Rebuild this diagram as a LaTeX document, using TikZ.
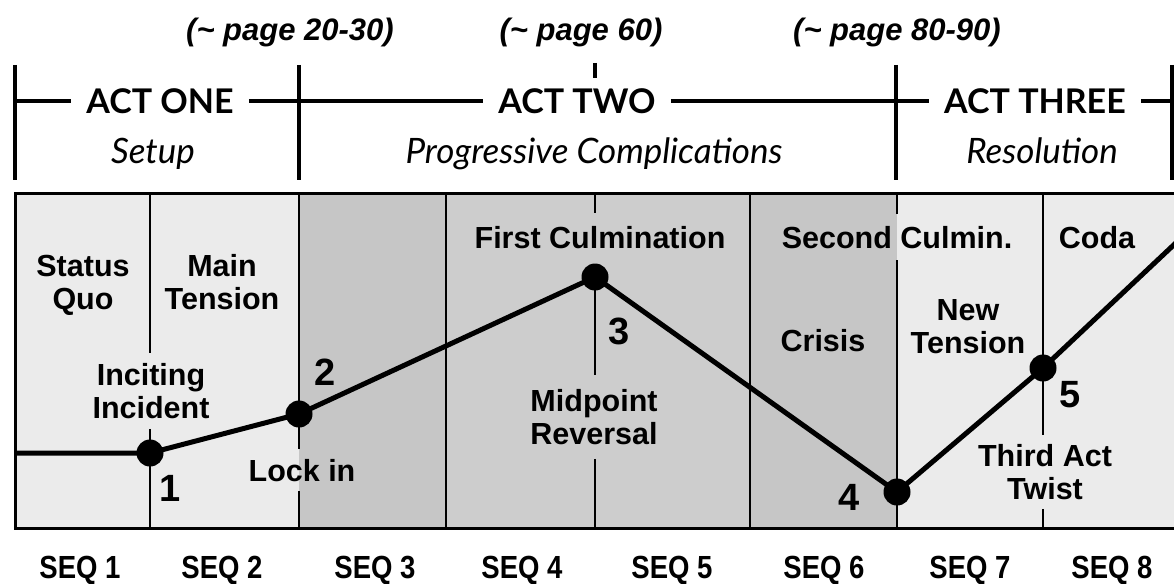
\documentclass[tikz,border=0pt]{standalone}
\usepackage{fontspec}
\setmainfont{Liberation Sans}
\newfontfamily\gillfont{Lato}
\newfontfamily\seqfont[FakeStretch=0.86]{Liberation Sans}
\usepackage{xcolor}
\usetikzlibrary{positioning, calc}
\definecolor{lightgrey}{HTML}{EBEBEB}
\definecolor{darkgrey}{HTML}{C6C6C6}
\definecolor{midgrey}{HTML}{CDCDCD}

\begin{document}
\begin{tikzpicture}[x=1pt, y=-1pt]
        \tikzstyle{txt} = [font=\bfseries\fontsize{30.5}{33}\selectfont, align=center, inner sep=0pt, text depth=0pt]
        \tikzstyle{num} = [font=\bfseries\fontsize{38}{40}\selectfont, inner sep=0pt]
        \tikzstyle{dot} = [circle, fill=black, minimum size=27pt, inner sep=0pt]
        \tikzstyle{act} = [font=\gillfont\bfseries\fontsize{34}{37}\selectfont, inner xsep=15pt, inner ysep=0pt]
        \tikzstyle{sub} = [font=\gillfont\itshape\fontsize{35}{38}\selectfont, anchor=base]
        \tikzstyle{pagelbl} = [font=\bfseries\itshape\fontsize{31}{34}\selectfont, anchor=base]
        \tikzstyle{seq} = [font=\seqfont\bfseries\fontsize{32}{35}\selectfont, anchor=base, inner sep=0pt]
        \tikzstyle{bar} = [line width=3.5pt]
        \tikzstyle{frame} = [line width=3pt]
        \tikzstyle{divider} = [line width=2.8pt]
        \tikzstyle{storyline} = [line width=5pt, line join=round]

        \fill[white] (0,0) rectangle (1174,583);
        \useasboundingbox (0,0) rectangle (1174,583);

        % acts
        \foreach \x [count=\i] in {15,299,896,1172} {
            \coordinate (h\i) at (\x,101);
            \draw[bar] (\x,65) -- (\x,180);
        }
        \node[act] (a1) at (160,101) {ACT ONE};
        \node[act] (a2) at (577,101) {ACT TWO};
        \node[act] (a3) at (1035,101) {ACT THREE};
        \draw[bar] (h1) -- (a1.west);
        \draw[bar] (a1.east) -- (a2.west);
        \draw[bar] (a2.east) -- (a3.west);
        \draw[bar] (a3.east) -- (h4);
        \coordinate (tk) at (595,63);
        \draw[bar] (tk) -- ++(0,15);

        \node[sub] (s1) at (153,163) {Setup};
        \node[sub] (s2) at (594,163) {Progressive Complications};
        \node[sub] (s3) at (1042,163) {Resolution};

        \node[pagelbl] (pg1) at (290,41) {(\textasciitilde\ page 20-30)};
        \node[pagelbl] (pg2) at (581,41) {(\textasciitilde\ page 60)};
        \node[pagelbl] (pg3) at (897,41) {(\textasciitilde\ page 80-90)};

        % sequences
        \fill[lightgrey] (15,193) rectangle (299,528);
        \fill[darkgrey] (299,193) rectangle (446,528);
        \fill[midgrey] (446,193) rectangle (750,528);
        \fill[darkgrey] (750,193) rectangle (897,528);
        \fill[lightgrey] (897,193) rectangle (1180,528);

        \foreach \x [count=\i] in {150,299,446,595,750,897,1043} {
            \coordinate (t\i) at (\x,193);
            \coordinate (b\i) at (\x,528);
        }

        \node[txt] (sq) at (83,282) {Status\\Quo};
        \node[txt] (mt) at (222,282) {Main\\Tension};
        \node[txt, inner sep=10pt] (inc) at (151,391) {Inciting\\Incident};
        \node[txt, inner sep=10pt] (lock) at (302,470) {Lock in};
        \node[txt, inner sep=13pt] (fc) at (600,237) {First Culmination};
        \node[txt, inner sep=14pt] (mid) at (594,417) {Midpoint\\Reversal};
        \node[txt, inner sep=12pt] (sc) at (897,237) {Second Culmin.};
        \node[txt] (cr) at (823,340) {Crisis};
        \node[txt] (nt) at (968,327) {New\\Tension};
        \node[txt] (co) at (1097,237) {Coda};
        \node[txt, inner sep=9pt] (tw) at (1045,472) {Third Act\\Twist};

        \draw[divider] (t1) -- (inc.north -| t1);
        \draw[divider] (inc.south -| t1) -- (b1);
        \draw[divider] (t2) -- (lock.north -| t2);
        \draw[divider] (lock.south -| t2) -- (b2);
        \draw[divider] (t3) -- (b3);
        \draw[divider] (t4) -- (fc.north -| t4);
        \draw[divider] (t4 |- 0,277) -- (mid.north -| t4);
        \draw[divider] (mid.south -| t4) -- (b4);
        \draw[divider] (t5) -- (b5);
        \draw[divider] (t6) -- (sc.north -| t6);
        \draw[divider] (sc.south -| t6) -- (b6);
        \draw[divider] (t7) -- (tw.north -| t7);
        \draw[divider] (tw.south -| t7) -- (b7);

        \draw[frame] (1180,193) -| (15,528) -- (1180,528);

        % story curve
        \node[dot] (d1) at (150,453) {};
        \node[dot] (d2) at (299,414) {};
        \node[dot] (d3) at (595,277) {};
        \node[dot] (d4) at (897,492) {};
        \node[dot] (d5) at (1043,368) {};
        \coordinate (st) at (15,453);
        \coordinate (en) at (1180,239);
        \draw[storyline] (st) -- (d1.center) -- (d2.center) -- (d3.center) -- (d4.center) -- (d5.center) -- (en);

        \node[num] (n1) at (170,488) {1};
        \node[num] (n2) at (325,372) {2};
        \node[num] (n3) at (619,331) {3};
        \node[num] (n4) at (849,497) {4};
        \node[num] (n5) at (1070,395) {5};

        \foreach \x [count=\i] in {80,222,375,522,672,824,970,1112}
            \node[seq] (q\i) at (\x,578) {SEQ \i};
\end{tikzpicture}
\end{document}
